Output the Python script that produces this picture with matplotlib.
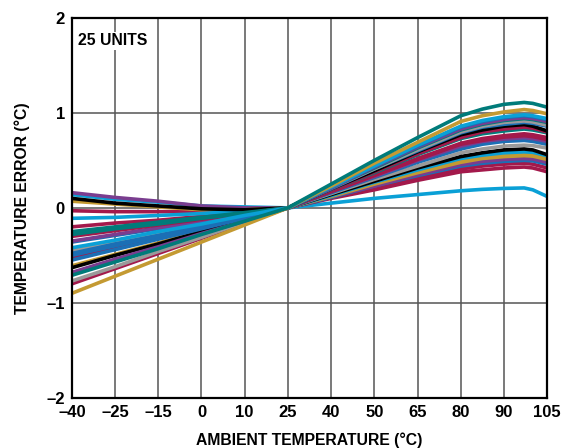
import numpy as np
import matplotlib
matplotlib.use("Agg")
import matplotlib.pyplot as plt

# axis ticks (equally spaced on the plot, not linear in temperature)
tick_temps = [-40, -25, -15, 0, 10, 25, 40, 50, 65, 80, 90, 105]
tick_labels = ["\u201340", "\u201325", "\u201315", "0", "10", "25", "40", "50", "65", "80", "90", "105"]

# temperatures where each unit's error was read
temps = [-40, -25, -15, 0, 10, 25, 40, 50, 65, 80, 85, 90, 97, 100, 105]

TEAL = "#007b7a"
GOLD = "#c49a32"
LBLUE = "#0aa0d6"
BLUE = "#1b6fb5"
PURPLE = "#7a3d8f"
GRAY = "#9a9a9a"
BLACK = "#000000"
MAROON = "#a3194b"

unit_colors = [TEAL, GOLD, LBLUE, BLUE, PURPLE, TEAL, GRAY, BLUE, BLACK, MAROON,
               TEAL, MAROON, MAROON, PURPLE, BLUE, GRAY, BLACK, LBLUE, GOLD, GOLD,
               PURPLE, BLUE, MAROON, MAROON, LBLUE]

unit_errors = [
    [-0.71, -0.57, -0.43, -0.28, -0.14, 0, 0.25, 0.50, 0.74, 0.97, 1.04, 1.09, 1.11, 1.10, 1.06],
    [-0.90, -0.72, -0.54, -0.36, -0.18, 0, 0.23, 0.47, 0.69, 0.91, 0.97, 1.01, 1.035, 1.025, 0.99],
    [-0.42, -0.34, -0.25, -0.17, -0.08, 0, 0.22, 0.44, 0.66, 0.86, 0.92, 0.96, 0.98, 0.97, 0.94],
    [-0.55, -0.44, -0.33, -0.22, -0.11, 0, 0.22, 0.44, 0.65, 0.85, 0.91, 0.95, 0.97, 0.96, 0.93],
    [-0.68, -0.54, -0.41, -0.27, -0.14, 0, 0.21, 0.43, 0.64, 0.83, 0.89, 0.93, 0.95, 0.94, 0.91],
    [-0.28, -0.22, -0.17, -0.11, -0.06, 0, 0.21, 0.42, 0.63, 0.82, 0.88, 0.92, 0.94, 0.93, 0.90],
    [-0.77, -0.62, -0.46, -0.31, -0.15, 0, 0.21, 0.41, 0.61, 0.80, 0.86, 0.90, 0.915, 0.905, 0.87],
    [-0.50, -0.40, -0.30, -0.20, -0.10, 0, 0.20, 0.41, 0.60, 0.79, 0.85, 0.88, 0.90, 0.89, 0.86],
    [-0.63, -0.50, -0.38, -0.25, -0.13, 0, 0.20, 0.39, 0.59, 0.77, 0.82, 0.86, 0.877, 0.86, 0.81],
    [-0.80, -0.64, -0.48, -0.32, -0.16, 0, 0.19, 0.38, 0.57, 0.74, 0.80, 0.83, 0.85, 0.84, 0.80],
    [-0.25, -0.20, -0.15, -0.10, -0.05, 0, 0.19, 0.37, 0.56, 0.73, 0.78, 0.81, 0.83, 0.82, 0.79],
    [-0.52, -0.42, -0.31, -0.21, -0.10, 0, 0.18, 0.35, 0.52, 0.68, 0.73, 0.76, 0.78, 0.77, 0.74],
    [-0.30, -0.24, -0.18, -0.12, -0.06, 0, 0.17, 0.34, 0.51, 0.67, 0.71, 0.745, 0.76, 0.75, 0.72],
    [-0.35, -0.28, -0.21, -0.14, -0.07, 0, 0.17, 0.33, 0.50, 0.65, 0.70, 0.725, 0.74, 0.73, 0.70],
    [-0.48, -0.38, -0.29, -0.19, -0.10, 0, 0.16, 0.32, 0.48, 0.62, 0.67, 0.70, 0.71, 0.70, 0.67],
    [-0.45, -0.36, -0.27, -0.18, -0.09, 0, 0.15, 0.30, 0.44, 0.58, 0.62, 0.65, 0.66, 0.655, 0.63],
    [0.10, 0.05, 0.02, -0.01, -0.02, 0, 0.14, 0.28, 0.42, 0.54, 0.58, 0.61, 0.62, 0.61, 0.56],
    [-0.11, -0.10, -0.08, -0.06, -0.03, 0, 0.13, 0.27, 0.40, 0.52, 0.555, 0.58, 0.59, 0.585, 0.55],
    [-0.61, -0.49, -0.37, -0.24, -0.12, 0, 0.13, 0.26, 0.38, 0.50, 0.535, 0.56, 0.57, 0.565, 0.53],
    [0.07, 0.04, 0.01, -0.02, -0.02, 0, 0.12, 0.25, 0.37, 0.48, 0.52, 0.54, 0.55, 0.545, 0.51],
    [0.16, 0.11, 0.07, 0.02, 0.00, 0, 0.12, 0.23, 0.35, 0.455, 0.49, 0.51, 0.52, 0.515, 0.48],
    [-0.36, -0.29, -0.22, -0.14, -0.07, 0, 0.11, 0.23, 0.34, 0.44, 0.47, 0.49, 0.50, 0.495, 0.46],
    [-0.20, -0.16, -0.13, -0.09, -0.05, 0, 0.11, 0.21, 0.31, 0.41, 0.44, 0.46, 0.47, 0.46, 0.42],
    [-0.03, -0.04, -0.04, -0.04, -0.03, 0, 0.10, 0.19, 0.29, 0.38, 0.40, 0.42, 0.43, 0.42, 0.38],
    [0.14, 0.09, 0.06, 0.02, 0.01, 0, 0.05, 0.10, 0.14, 0.18, 0.195, 0.205, 0.21, 0.19, 0.12],
]

plt.rcParams["font.family"] = ["Liberation Sans", "DejaVu Sans"]
plt.rcParams["font.weight"] = "bold"

fig = plt.figure(figsize=(5.7, 4.48), dpi=100)
ax = fig.add_axes([0.126, 0.112, 0.834, 0.848])

# piecewise mapping so the ticks are evenly spaced
idx = np.arange(len(tick_temps))
fwd = lambda t: np.interp(t, tick_temps, idx)
inv = lambda p: np.interp(p, idx, tick_temps)
ax.set_xscale("function", functions=(fwd, inv))

for col, vals in reversed(list(zip(unit_colors, unit_errors))):
    ax.plot(temps, vals, color=col, lw=2.6, solid_capstyle="butt", solid_joinstyle="round")

ax.set_xlim(-40, 105)
ax.set_ylim(-2, 2)
ax.set_xticks(tick_temps)
ax.set_xticklabels(tick_labels)
ax.set_yticks([-2, -1, 0, 1, 2])
ax.set_yticklabels(["\u20132", "\u20131", "0", "1", "2"])
ax.tick_params(length=0, labelsize=12, pad=5)
for lab in ax.get_xticklabels() + ax.get_yticklabels():
    lab.set_fontweight("bold")

ax.grid(True, color="#555555", lw=1.1)
ax.set_axisbelow(True)
for sp in ax.spines.values():
    sp.set_linewidth(1.6)
    sp.set_color("black")

ax.set_xlabel("AMBIENT TEMPERATURE (°C)", fontsize=11.3, fontweight="bold", labelpad=9)
ax.set_ylabel("TEMPERATURE ERROR (°C)", fontsize=11.3, fontweight="bold", labelpad=12)
ax.text(0.013, 0.94, "25 UNITS", transform=ax.transAxes, fontsize=11.3, fontweight="bold",
        va="center", ha="left", bbox=dict(facecolor="white", edgecolor="none", pad=1))

fig.savefig("out.png", dpi=100)
